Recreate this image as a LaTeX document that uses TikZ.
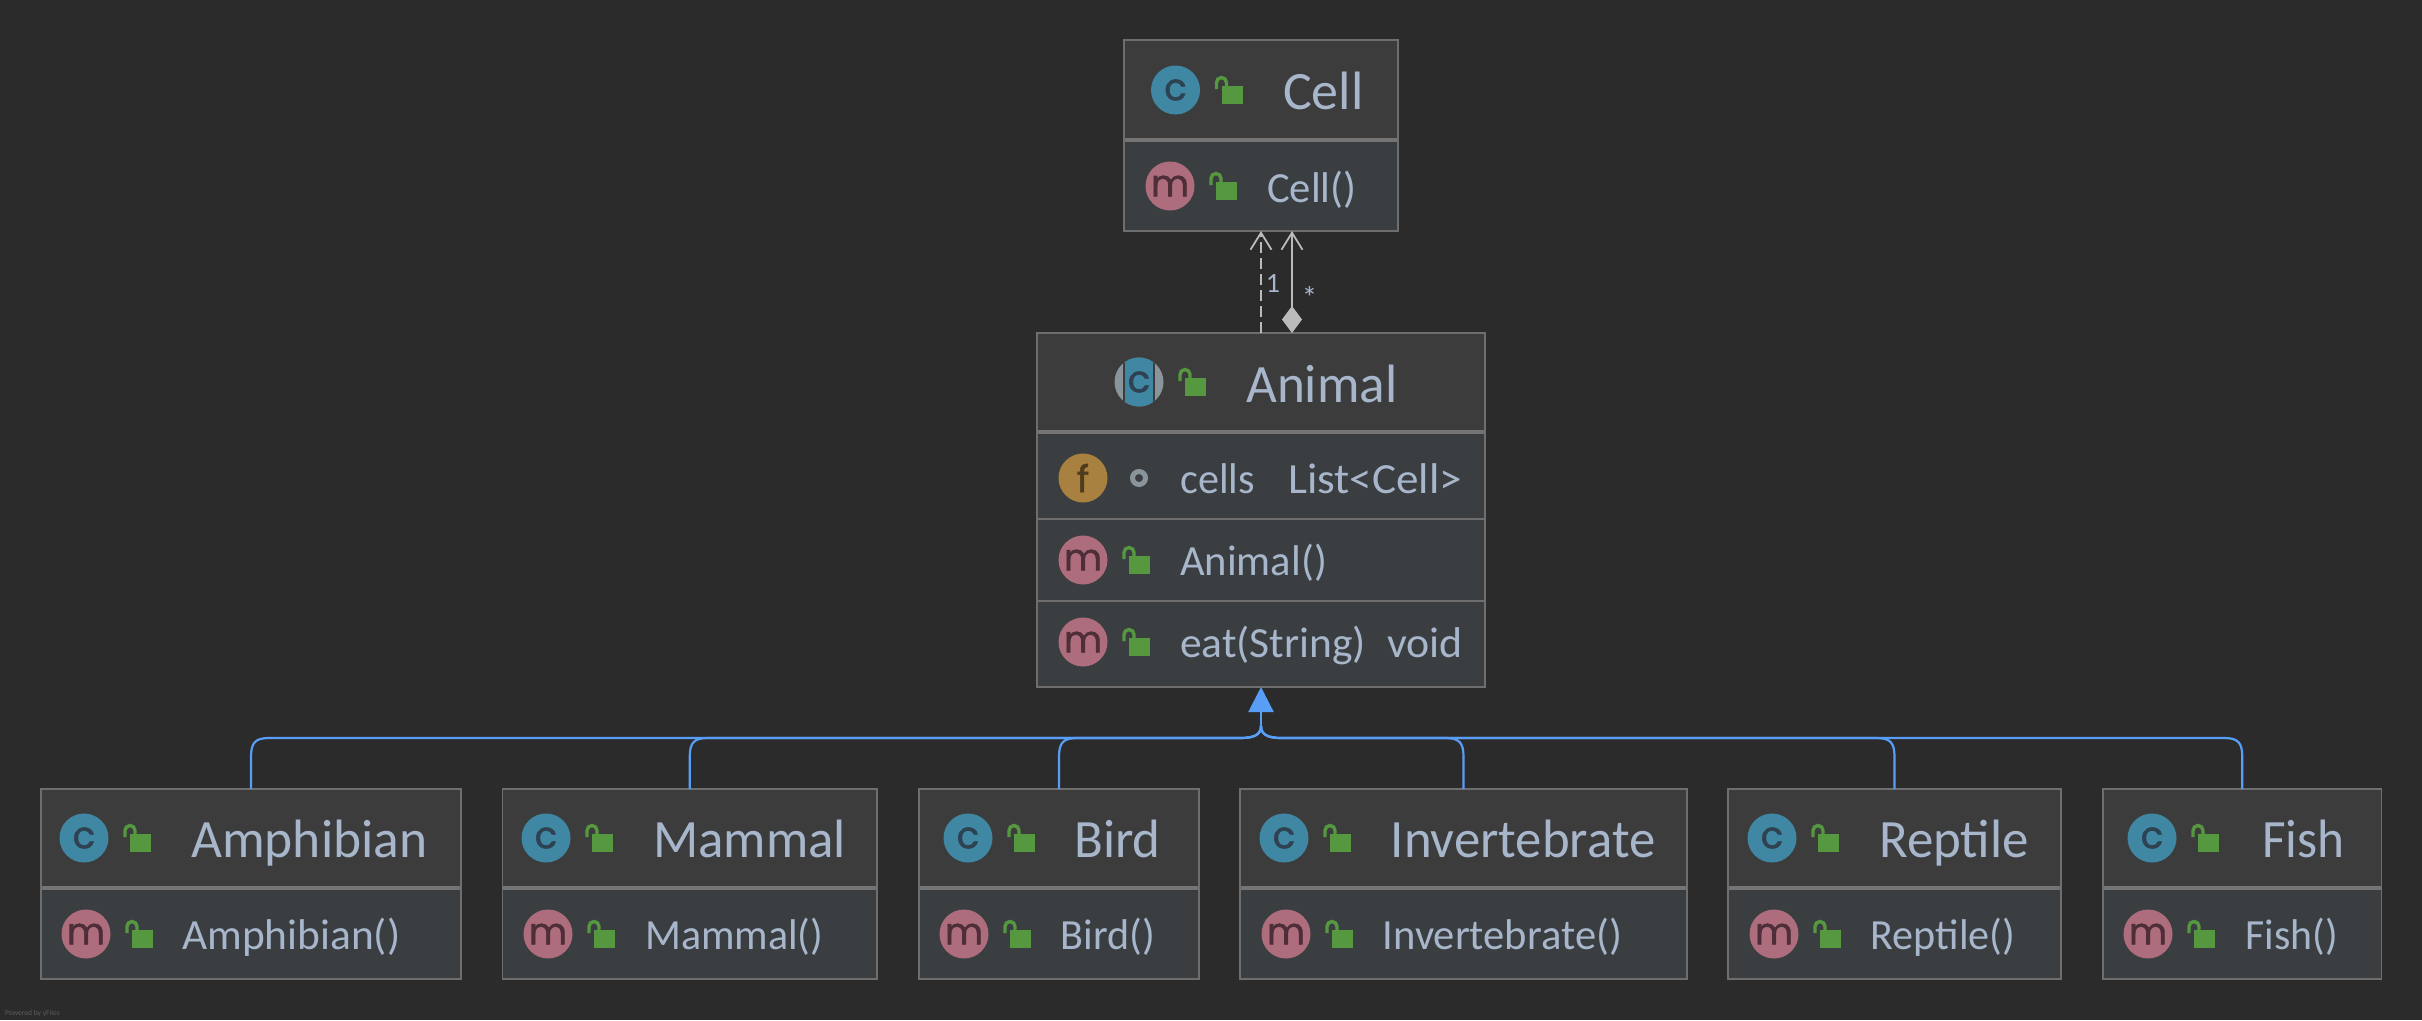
\documentclass[tikz,border=0pt]{standalone}
\usepackage{fontspec}
\setmainfont{Carlito}
\newfontfamily\badgefont[FakeBold=1.6]{Poppins}
\usetikzlibrary{arrows.meta,calc}
\definecolor{bgc}{HTML}{2B2B2B}
\definecolor{headc}{HTML}{3C3C3C}
\definecolor{bodyc}{HTML}{3B3E41}
\definecolor{edgec}{HTML}{6E6E6E}
\definecolor{sepc}{HTML}{747474}
\definecolor{txtc}{HTML}{A7B6CB}
\definecolor{bluec}{HTML}{589DF6}
\definecolor{greyc}{HTML}{BBBBBB}
\definecolor{cc}{HTML}{3F87A3}
\definecolor{mc}{HTML}{AD6D7C}
\definecolor{fc}{HTML}{A8803F}
\definecolor{lockc}{HTML}{56983F}
\definecolor{dotc}{HTML}{8A949B}
\definecolor{inkc}{HTML}{2E4252}
\definecolor{inkm}{HTML}{4E2E38}
\definecolor{inkf}{HTML}{4F3B1D}
\definecolor{tinyc}{HTML}{5C5C5C}
\tikzset{
 x=1pt,y=-1pt,
 box/.style={draw=edgec,line width=1.8pt,inner sep=0pt,outer sep=0pt,anchor=north west},
 ttl/.style={text=txtc,font=\fontsize{54}{60}\selectfont,inner sep=0pt,anchor=base west},
 mem/.style={text=txtc,font=\fontsize{43}{48}\selectfont,inner sep=0pt,anchor=base west},
 badge/.style={circle,minimum size=49pt,inner sep=0pt,fill=#1},
 blueline/.style={draw=bluec,line width=2.2pt},
 greyline/.style={draw=greyc,line width=1.8pt},
 mult/.style={text=txtc,inner sep=0pt},
}
\newcommand{\lockat}[1]{%
 \fill[lockc] ($(#1)+(46,-4)$) rectangle ($(#1)+(67,14)$);
 \draw[lockc,line width=3.4pt] ($(#1)+(41,-1)$) -- ($(#1)+(41,-7.5)$) arc[start angle=180,end angle=0,radius=5pt] -- ($(#1)+(51,-4)$);
}
% name x1 x2 y1 ysep y2
\newcommand{\classbox}[6]{%
 \fill[headc] (#2,#4) rectangle (#3,#5);
 \fill[bodyc] (#2,#5) rectangle (#3,#6);
 \draw[sepc,line width=4pt] (#2,#5) -- (#3,#5);
 \node[box,minimum width=#3pt-#2pt,minimum height=#6pt-#4pt] (#1) at (#2,#4) {};
}
% id cx cy colour ink letter
\newcommand{\badgeat}[6]{%
 \node[badge=#4,text=#5,font=\badgefont\fontsize{37}{37}\selectfont] (#1) at (#2,#3) {#6};
}
% prefix title tx baseline hscale
\newcommand{\titleat}[5]{\node[ttl] (#1t) at (#3,#4) {\scalebox{#5}[1]{#2}};}
\newcommand{\memberat}[5]{\node[mem] (#1m) at (#3,#4) {\scalebox{#5}[1]{#2}};}
% child, side
\newcommand{\inherit}[2]{%
 \draw[blueline] (#1.north) -- ($(#1.north)+(0,-32)$)
  .. controls ($(#1.north)+(0,-46)$) and ($(#1.north)+(-4*#2,-51)$) .. ($(#1.north)+(-18*#2,-51)$)
  -- ($(hub)+(20*#2,0)$)
  .. controls ($(hub)+(6*#2,0)$) and ($(hub)+(0,-4)$) .. ($(hub)+(0,-12)$);
}
\begin{document}
\begin{tikzpicture}
\useasboundingbox (0,0) rectangle (2422,1020);
\fill[bgc] (0,0) rectangle (2422,1020);
\classbox{cell}{1124}{1398}{40}{140}{231}
\classbox{animal}{1037}{1485}{333}{432}{687}
\draw[edgec,line width=1.8pt] (1037,519) -- (1485,519);
\draw[edgec,line width=1.8pt] (1037,601) -- (1485,601);
\classbox{amphibian}{41}{461}{789}{888}{979}
\classbox{mammal}{502.5}{877}{789}{888}{979}
\classbox{bird}{919}{1199}{789}{888}{979}
\classbox{invert}{1240}{1687}{789}{888}{979}
\classbox{reptile}{1728}{2061}{789}{888}{979}
\classbox{fish}{2103}{2381.5}{789}{888}{979}
% Cell
\badgeat{cc0}{1175.5}{90}{cc}{inkc}{c}\lockat{cc0}
\titleat{cell}{Cell}{1283}{109}{1}
\badgeat{cm0}{1170}{186}{mc}{inkm}{m}\lockat{cm0}
\memberat{cell}{Cell()}{1267}{202}{.99}
% Animal
\begin{scope}
 \clip (1139,382) circle[radius=24.5];
 \fill[dotc] (1100,350) rectangle (1180,410);
 \fill[headc] (1123,350) rectangle (1155,410);
 \fill[cc] (1125,350) rectangle (1153,410);
\end{scope}
\node[inner sep=0pt,text=inkc,font=\badgefont\fontsize{37}{37}\selectfont] (ac) at (1139,382) {c};
\lockat{ac}
\titleat{animal}{Animal}{1246}{402}{.985}
\badgeat{af}{1083}{478}{fc}{inkf}{f}
\node[circle,draw=dotc,line width=5pt,minimum size=13pt,inner sep=0pt] (adot) at (1139,478) {};
\node[mem] (acells) at (1180,493) {\scalebox{.98}[1]{cells}};
\node[mem] (acellst) at (1288,493) {\scalebox{1.05}[1]{List<Cell>}};
\badgeat{am1}{1083}{560}{mc}{inkm}{m}\lockat{am1}
\node[mem] (actor) at (1180,575) {\scalebox{.99}[1]{Animal()}};
\badgeat{am2}{1083}{642}{mc}{inkm}{m}\lockat{am2}
\node[mem] (aeat) at (1180,657) {\scalebox{1.01}[1]{eat(String)}};
\node[mem] (avoid) at (1387,657) {\scalebox{1.02}[1]{void}};
% Children
\badgeat{c1}{84}{838}{cc}{inkc}{c}\lockat{c1}
\titleat{amphibian}{Amphibian}{191}{857}{.99}
\badgeat{m1}{86}{934}{mc}{inkm}{m}\lockat{m1}
\memberat{amphibian}{Amphibian()}{182}{949}{1.01}
\badgeat{c2}{546}{838}{cc}{inkc}{c}\lockat{c2}
\titleat{mammal}{Mammal}{653}{857}{.98}
\badgeat{m2}{548}{934}{mc}{inkm}{m}\lockat{m2}
\memberat{mammal}{Mammal()}{645}{949}{.975}
\badgeat{c3}{968}{838}{cc}{inkc}{c}\lockat{c3}
\titleat{bird}{Bird}{1074}{857}{.98}
\badgeat{m3}{964}{934}{mc}{inkm}{m}\lockat{m3}
\memberat{bird}{Bird()}{1060.5}{949}{.98}
\badgeat{c4}{1284}{838}{cc}{inkc}{c}\lockat{c4}
\titleat{invert}{Invertebrate}{1390.5}{857}{.977}
\badgeat{m4}{1286}{934}{mc}{inkm}{m}\lockat{m4}
\memberat{invert}{Invertebrate()}{1382.5}{949}{.99}
\badgeat{c5}{1772}{838}{cc}{inkc}{c}\lockat{c5}
\titleat{reptile}{Reptile}{1879}{857}{.98}
\badgeat{m5}{1774}{934}{mc}{inkm}{m}\lockat{m5}
\memberat{reptile}{Reptile()}{1870.5}{949}{.98}
\badgeat{c6}{2152}{838}{cc}{inkc}{c}\lockat{c6}
\titleat{fish}{Fish}{2262}{857}{.95}
\badgeat{m6}{2148}{934}{mc}{inkm}{m}\lockat{m6}
\memberat{fish}{Fish()}{2245.5}{949}{.97}
% Inheritance
\coordinate (hub) at (1261,738);
\inherit{amphibian}{-1}
\inherit{mammal}{-1}
\inherit{bird}{-1}
\inherit{invert}{1}
\inherit{reptile}{1}
\inherit{fish}{1}
\draw[blueline,-{Triangle[length=25pt,width=25pt]}] ($(hub)+(0,-12)$) -- (animal.south);
% Associations
\draw[greyline,dash pattern=on 11pt off 5pt,-{Straight Barb[length=17pt,width=21pt]}] (animal.north) -- (cell.south);
\draw[greyline,{Diamond[length=27pt,width=20pt]}-{Straight Barb[length=17pt,width=21pt]}] ($(animal.north)+(31,0)$) -- ($(cell.south)+(31,0)$);
\node[mult,font=\fontsize{28}{28}\selectfont] (lone) at (1273,283) {1};
\node[mult,font=\fontsize{31}{31}\selectfont] (lstar) at (1309.5,297) {*};
\node[inner sep=0pt,anchor=base west,text=tinyc,font=\fontsize{7.5}{8}\selectfont] (yf) at (5,1015) {Powered by yFiles};
\end{tikzpicture}
\end{document}
